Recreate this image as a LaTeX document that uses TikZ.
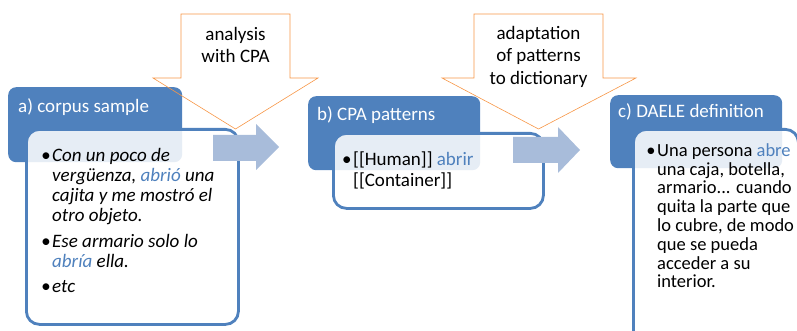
\documentclass[tikz,border=0pt]{standalone}
\usepackage{fontspec}
\setmainfont{Carlito}
\usepackage{tikz}
\usetikzlibrary{positioning}
\definecolor{hdrblue}{RGB}{79,129,189}
\definecolor{flowblue}{RGB}{168,188,218}
\definecolor{cpaorange}{RGB}{247,150,70}
\newcommand{\hl}[1]{\textcolor{hdrblue}{#1}}
\newcommand{\bul}{\llap{\textbullet\hspace{1.5pt}}}
\newcommand{\firstline}{\rule{0pt}{16pt}}

\begin{document}
\begin{tikzpicture}[
  x=1pt, y=-1pt,
  hdr/.style={rectangle, rounded corners=8pt, fill=hdrblue, anchor=north west, inner sep=0pt},
  hdrtext/.style={text=white, font=\fontsize{19}{22}\selectfont, anchor=base west, inner sep=0pt},
  bodybox/.style={rectangle, rounded corners=13pt, draw=hdrblue, line width=2.8pt, fill=white, fill opacity=0.86, anchor=north west, inner sep=0pt},
  bodytext/.style={anchor=north west, inner sep=0pt, align=left, text=black},
  flowarrow/.style={fill=flowblue},
  cpaarrow/.style={draw=cpaorange, line width=0.6pt},
  cpatext/.style={anchor=north, inner sep=0pt, align=center, font=\fontsize{19}{22.5}\selectfont}
]
\useasboundingbox (0,0) rectangle (797,331);

% Header nodes
\node[hdr, minimum width=174pt, minimum height=75pt] (corpushdr) at (8,87) {};
\node[hdr, minimum width=172pt, minimum height=74pt] (patternhdr) at (308,96) {};
\node[hdr, minimum width=172pt, minimum height=73pt] (daelehdr) at (610,95) {};

% Body nodes
\node[bodybox, minimum width=212pt, minimum height=195pt] (corpus) at (25,128) {};
\node[bodybox, minimum width=210pt, minimum height=75pt] (pattern) at (332,132) {};
\node[bodybox, minimum width=165pt, minimum height=230pt] (daele) at (632,128) {};

% Flow arrows
\fill[flowarrow] (213,135) -- (256,135) -- (256,124) -- (279,147) -- (256,170) -- (256,161) -- (213,161) -- cycle;
\fill[flowarrow] (513,137) -- (558,137) -- (558,127) -- (580,150) -- (558,173) -- (558,163) -- (513,163) -- cycle;

% Header texts
\node[hdrtext] (corpuslbl) at (18,113) {a) corpus sample};
\node[hdrtext] (patternlbl) at (317,121) {b) CPA patterns};
\node[hdrtext] (daelelbl) at (618,118) {c) DAELE definition};

% Body texts
\node[bodytext, font=\fontsize{19}{20}\selectfont\itshape] (corpustxt) at (52,145)
  {\firstline\bul Con un poco de\\ vergüenza, \hl{abrió} una\\ cajita y me mostró el\\ otro objeto.\\[6pt]
   \bul Ese armario solo lo\\ \hl{abría} ella.\\[5pt] \bul etc};
\node[bodytext, font=\fontsize{19}{21}\selectfont] (patterntxt) at (353,149)
  {\firstline\bul [[Human]] \hl{abrir}\\{}[[Container]]};
\node[bodytext, font=\fontsize{18.5}{18.8}\selectfont] (daeletxt) at (657,140)
  {\firstline\bul Una persona \hl{abre}\\ una caja, botella,\\ armario... cuando\\ quita la parte que\\
   lo cubre, de modo\\ que se pueda\\ acceder a su\\ interior.};

% Process arrows
\draw[cpaarrow] (181,14) -- (290,14) -- (290,78) -- (318,78) -- (235.5,129) -- (153,78) -- (181,78) -- cycle;
\draw[cpaarrow] (474,14) -- (603,14) -- (603,78) -- (636,78) -- (538.5,129) -- (442,78) -- (474,78) -- cycle;
\node[cpatext] (analysis) at (235.5,24) {\firstline analysis\\ with CPA};
\node[cpatext] (adaptation) at (538.5,23) {\firstline adaptation\\ of patterns\\ to dictionary};

\end{tikzpicture}
\end{document}
